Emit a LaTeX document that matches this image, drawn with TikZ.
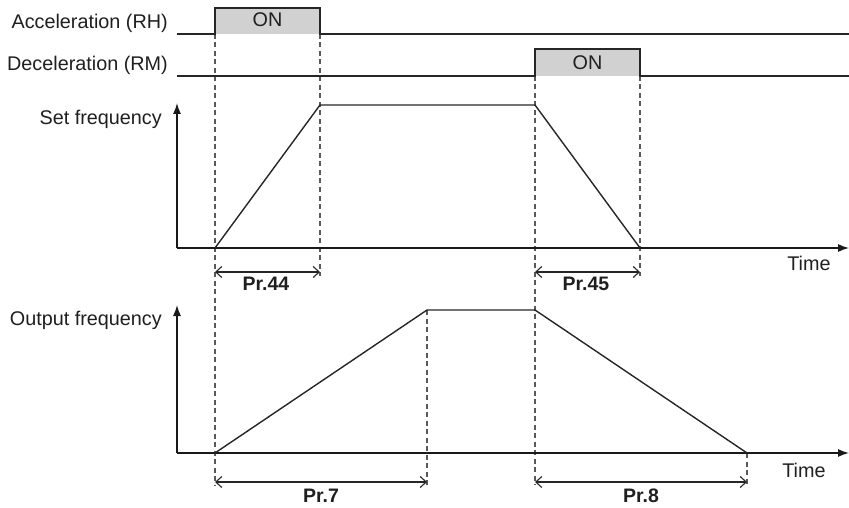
\documentclass[tikz,border=0pt]{standalone}
\usepackage{fontspec}
\setmainfont{Liberation Sans}
\usetikzlibrary{arrows.meta}
\begin{document}
\begin{tikzpicture}[x=1pt,y=-1pt,
  sig/.style={line width=1.4pt, draw=black!85, line join=miter},
  dashline/.style={line width=1.1pt, draw=black!65, dash pattern=on 5pt off 3.5pt},
  axis/.style={line width=1.4pt, draw=black!90, -{Latex[length=11pt,width=8pt]}},
  dim/.style={line width=1.1pt, draw=black!85, {Straight Barb[length=6pt,width=11pt]}-{Straight Barb[length=6pt,width=11pt]}},
  lbl/.style={font=\fontsize{19.8}{23}\selectfont, text=black!88, inner sep=0pt},
  prl/.style={font=\fontsize{19.5}{23}\selectfont\bfseries, text=black!88, inner sep=0pt},
  onbox/.style={fill=black!18}
]
\useasboundingbox (0,0) rectangle (849,508);

% key coordinates
\coordinate (rhA) at (177,34);  \coordinate (rhB) at (215,34);
\coordinate (rhC) at (215,8);   \coordinate (rhD) at (320,8);
\coordinate (rhE) at (320,34);  \coordinate (rhF) at (849,34);
\coordinate (rmA) at (177,76);  \coordinate (rmB) at (535,76);
\coordinate (rmC) at (535,49);  \coordinate (rmD) at (640,49);
\coordinate (rmE) at (640,76);  \coordinate (rmF) at (849,76);

\coordinate (o1) at (177,248); \coordinate (y1) at (177,103); \coordinate (x1) at (849,248);
\coordinate (s0) at (215,248); \coordinate (s1) at (320,105);
\coordinate (s2) at (535,105); \coordinate (s3) at (640,248);

\coordinate (o2) at (177,453); \coordinate (y2) at (177,305); \coordinate (x2) at (849,453);
\coordinate (u0) at (215,453); \coordinate (u1) at (427,310);
\coordinate (u2) at (535,310); \coordinate (u3) at (747,453);

% ON boxes
\fill[onbox] (rhC) rectangle (rhE);
\fill[onbox] (rmC) rectangle (rmE);

% dashed guides
\draw[dashline] (rhB) -- (215,485);
\draw[dashline] (rhE) -- (320,276);
\draw[dashline] (rmB) -- (535,485);
\draw[dashline] (rmE) -- (640,276);
\draw[dashline] (u1) -- (427,485);
\draw[dashline] (u3) -- (747,485);

% signals
\draw[sig] (rhA) -- (rhB) -- (rhC) -- (rhD) -- (rhE) -- (rhF);
\draw[sig] (rmA) -- (rmB) -- (rmC) -- (rmD) -- (rmE) -- (rmF);
\node[lbl, anchor=base] (on1) at (267.5,27) {ON};
\node[lbl, anchor=base] (on2) at (587.5,70) {ON};
\node[lbl, anchor=base east] (rh) at (168,29) {Acceleration (RH)};
\node[lbl, anchor=base east] (rm) at (168,71) {Deceleration (RM)};

% upper chart
\draw[axis] (o1) -- (y1);
\draw[axis] (o1) -- (x1);
\draw[sig] (s0) -- (s1) -- (s2) -- (s3);
\node[lbl, anchor=base east] (sf) at (162,125) {Set frequency};
\node[lbl, anchor=base] (t1) at (809,270) {Time};
\coordinate (d1a) at (215,272); \coordinate (d1b) at (320,272);
\coordinate (d2a) at (535,272); \coordinate (d2b) at (640,272);
\draw[dim] (d1a) -- (d1b);
\draw[dim] (d2a) -- (d2b);
\node[prl, anchor=base] (p44) at (266,290) {Pr.44};
\node[prl, anchor=base] (p45) at (586,290) {Pr.45};

% lower chart
\draw[axis] (o2) -- (y2);
\draw[axis] (o2) -- (x2);
\draw[sig] (u0) -- (u1) -- (u2) -- (u3);
\node[lbl, anchor=base east] (of) at (162,325) {Output frequency};
\node[lbl, anchor=base] (t2) at (804,477) {Time};
\coordinate (d3a) at (215,482); \coordinate (d3b) at (427,482);
\coordinate (d4a) at (535,482); \coordinate (d4b) at (747,482);
\draw[dim] (d3a) -- (d3b);
\draw[dim] (d4a) -- (d4b);
\node[prl, anchor=base] (p7) at (321,502) {Pr.7};
\node[prl, anchor=base] (p8) at (641,502) {Pr.8};
\end{tikzpicture}
\end{document}
